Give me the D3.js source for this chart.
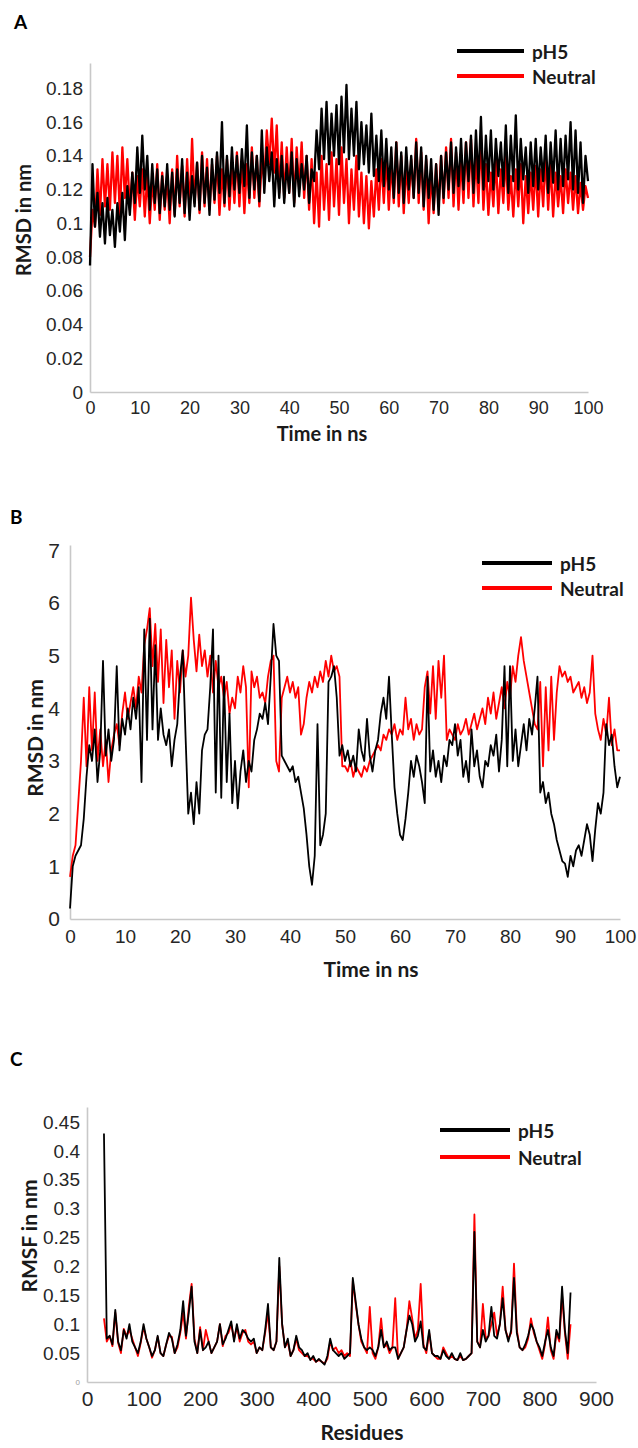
<!DOCTYPE html>
<html>
<head>
<meta charset="utf-8">
<script src="https://cdn.jsdelivr.net/npm/d3@7"></script>
<style>
  body { margin: 0; background: #fff; }
  svg { display: block; font-family: Lato, "Open Sans", sans-serif; }
  .axis path { stroke: #c8c8c8; stroke-width: 1.6; }
  .axis text { fill: #262626; }
  .panel-letter { font-weight: 700; font-size: 19px; fill: #000; }
  .axis-title { font-weight: 700; fill: #1a1a1a; }
  .legend text { font-weight: 700; font-size: 19px; fill: #1a1a1a; }
</style>
</head>
<body>
<script>
const seriesNames = ['pH5', 'Neutral'];
const seriesColors = ['#000000', '#ff0000'];

// A: backbone RMSD (nm), one value every 0.5 ns from 0 to 100
const timeStep = 0.5;
const rmsdA_pH5 = [
    0.075, 0.135, 0.098, 0.118, 0.092, 0.112, 0.088, 0.115, 0.093, 0.108,
    0.086, 0.112, 0.095, 0.118, 0.09, 0.122, 0.105, 0.13, 0.112, 0.145,
    0.118, 0.152, 0.12, 0.14, 0.108, 0.135, 0.112, 0.132, 0.106, 0.128,
    0.11, 0.135, 0.108, 0.13, 0.104, 0.132, 0.112, 0.138, 0.106, 0.13,
    0.102, 0.128, 0.11, 0.136, 0.108, 0.14, 0.112, 0.133, 0.105, 0.138,
    0.114, 0.142, 0.118, 0.16, 0.112, 0.14, 0.116, 0.145, 0.12, 0.14,
    0.118, 0.144, 0.122, 0.158, 0.115, 0.142, 0.12, 0.14, 0.113, 0.155,
    0.118, 0.145, 0.125, 0.142, 0.11, 0.138, 0.115, 0.14, 0.112, 0.135,
    0.118, 0.142, 0.11, 0.138, 0.116, 0.135, 0.12, 0.14, 0.112, 0.132,
    0.125, 0.155, 0.132, 0.168, 0.138, 0.172, 0.135, 0.165, 0.14, 0.17,
    0.135, 0.175, 0.142, 0.182, 0.138, 0.168, 0.14, 0.172, 0.132, 0.16,
    0.135, 0.158, 0.13, 0.165, 0.128, 0.152, 0.125, 0.155, 0.122, 0.15,
    0.12, 0.145, 0.115, 0.148, 0.118, 0.142, 0.112, 0.145, 0.12, 0.14,
    0.115, 0.148, 0.118, 0.145, 0.11, 0.14, 0.115, 0.138, 0.108, 0.135,
    0.105, 0.14, 0.115, 0.142, 0.12, 0.148, 0.118, 0.145, 0.122, 0.15,
    0.12, 0.148, 0.125, 0.152, 0.118, 0.155, 0.124, 0.163, 0.12, 0.152,
    0.125, 0.155, 0.12, 0.15, 0.128, 0.148, 0.122, 0.158, 0.118, 0.152,
    0.125, 0.164, 0.12, 0.15, 0.126, 0.145, 0.118, 0.148, 0.122, 0.15,
    0.12, 0.145, 0.125, 0.152, 0.118, 0.148, 0.124, 0.155, 0.12, 0.15,
    0.122, 0.152, 0.126, 0.16, 0.12, 0.155, 0.118, 0.148, 0.112, 0.14,
    0.125
];
const rmsdA_neutral = [
    0.08, 0.108, 0.098, 0.132, 0.105, 0.138, 0.11, 0.135, 0.108, 0.142,
    0.112, 0.14, 0.105, 0.145, 0.115, 0.138, 0.108, 0.13, 0.102, 0.128,
    0.11, 0.132, 0.104, 0.128, 0.1, 0.126, 0.108, 0.135, 0.102, 0.13,
    0.108, 0.128, 0.1, 0.132, 0.105, 0.14, 0.11, 0.134, 0.104, 0.138,
    0.108, 0.15, 0.112, 0.136, 0.106, 0.142, 0.11, 0.138, 0.108, 0.135,
    0.112, 0.14, 0.105, 0.132, 0.11, 0.138, 0.108, 0.135, 0.112, 0.142,
    0.11, 0.138, 0.106, 0.135, 0.112, 0.145, 0.115, 0.14, 0.11, 0.138,
    0.125, 0.155, 0.135, 0.162, 0.13, 0.158, 0.118, 0.148, 0.115, 0.145,
    0.118, 0.15, 0.112, 0.145, 0.12, 0.148, 0.115, 0.14, 0.108, 0.138,
    0.1, 0.13, 0.098, 0.14, 0.108, 0.135, 0.102, 0.142, 0.11, 0.138,
    0.105, 0.145, 0.112, 0.138, 0.1, 0.132, 0.108, 0.14, 0.104, 0.13,
    0.1, 0.128, 0.097, 0.125, 0.104, 0.132, 0.108, 0.138, 0.112, 0.14,
    0.108, 0.136, 0.112, 0.148, 0.11, 0.14, 0.106, 0.135, 0.112, 0.138,
    0.115, 0.15, 0.112, 0.142, 0.108, 0.138, 0.1, 0.13, 0.106, 0.135,
    0.11, 0.14, 0.112, 0.145, 0.115, 0.15, 0.11, 0.142, 0.108, 0.138,
    0.112, 0.148, 0.115, 0.15, 0.11, 0.14, 0.112, 0.152, 0.108, 0.135,
    0.105, 0.13, 0.11, 0.138, 0.106, 0.132, 0.112, 0.14, 0.108, 0.128,
    0.104, 0.132, 0.11, 0.135, 0.1, 0.128, 0.106, 0.13, 0.108, 0.134,
    0.104, 0.132, 0.11, 0.14, 0.108, 0.135, 0.104, 0.13, 0.11, 0.128,
    0.106, 0.132, 0.112, 0.13, 0.108, 0.128, 0.106, 0.124, 0.108, 0.122,
    0.115
];
const rmsdTicksA = [0, 0.02, 0.04, 0.06, 0.08, 0.1, 0.12, 0.14, 0.16, 0.18];
const timeTicks = [0, 10, 20, 30, 40, 50, 60, 70, 80, 90, 100];

// B: ligand RMSD (nm), one value every 0.5 ns
const rmsdB_pH5 = [
    0.2, 1.0, 1.2, 1.3, 1.4, 1.9, 2.7, 3.3, 3.0, 3.6,
    2.6, 3.2, 4.9, 3.1, 3.6, 3.0, 3.4, 4.8, 3.2, 3.8,
    3.5, 4.0, 3.6, 4.2, 3.8, 4.4, 2.6, 5.5, 3.4, 5.7,
    3.6, 5.2, 3.4, 4.0, 3.5, 3.3, 3.6, 2.9, 3.4, 3.7,
    4.6, 5.1, 3.5, 2.0, 2.4, 1.8, 2.6, 2.0, 3.2, 3.5,
    3.6, 4.4, 5.5, 2.4, 5.0, 2.3, 4.6, 2.6, 3.9, 2.2,
    3.0, 2.1, 2.8, 3.2, 2.6, 3.0, 2.8, 3.4, 3.6, 3.9,
    3.8, 4.1, 3.7, 4.6, 5.6, 5.0, 4.9, 3.1, 3.0, 2.9,
    2.8, 2.9, 2.6, 2.7, 2.4, 2.1, 1.6, 1.0, 0.65, 1.2,
    3.7, 1.4, 1.6, 2.0, 4.5, 4.6, 4.8, 4.2, 3.1, 3.3,
    3.0, 3.2, 2.9, 3.1, 2.8, 3.6, 3.2, 3.0, 3.8, 3.1,
    2.8, 3.2, 3.4, 3.9, 4.2, 3.8, 4.6, 3.5, 2.5, 2.0,
    1.6, 1.5, 1.9, 2.4, 3.0, 2.7, 3.1, 2.9, 2.6, 2.2,
    4.6, 2.8, 3.2, 2.7, 3.0, 2.6, 3.1, 2.9, 3.4, 3.3,
    3.7, 3.1, 3.4, 2.7, 3.0, 2.6, 3.6, 2.9, 3.2, 2.7,
    2.5, 3.0, 2.9, 3.3, 3.1, 3.5, 2.8, 3.4, 4.8, 2.9,
    4.8, 3.0, 3.6, 2.9, 3.3, 3.7, 3.2, 3.8, 3.5, 4.0,
    4.6, 2.4, 2.6, 2.2, 2.4, 2.0, 1.8, 1.5, 1.3, 1.1,
    1.05, 0.8, 1.2, 1.0, 1.3, 1.4, 1.2, 1.5, 1.8, 1.6,
    1.1, 1.7, 2.2, 2.0, 2.4, 3.7, 3.3, 3.5, 2.9, 2.5,
    2.7
];
const rmsdB_neutral = [
    0.8, 1.2, 1.4, 2.2, 3.0, 4.2, 2.9, 4.4, 3.2, 4.3,
    3.0, 3.6, 2.9, 3.4, 2.6, 3.2, 3.5, 3.7, 3.3, 3.9,
    4.3, 3.8, 4.1, 4.4, 4.0, 4.6, 4.3, 5.2, 5.5, 5.9,
    4.8, 5.6, 4.5, 5.5, 4.1, 5.3, 4.4, 5.1, 3.8, 4.9,
    4.3, 5.1, 4.6, 5.0, 6.1, 5.3, 4.7, 5.4, 4.8, 5.1,
    4.6, 5.0, 4.3, 4.9, 4.4, 4.6, 4.2, 4.5, 3.9, 4.2,
    4.0, 4.6, 4.3, 4.8, 4.4, 2.5, 4.7, 4.4, 4.6, 4.2,
    4.3, 4.1, 4.6, 4.9, 5.0, 3.0, 2.8, 4.2, 4.4, 4.6,
    4.3, 4.5, 4.2, 4.4, 3.5, 3.7, 4.2, 4.5, 4.3, 4.6,
    4.4, 4.7, 4.5, 4.9, 4.6, 5.0, 4.7, 4.8, 4.6, 2.9,
    2.9, 2.8, 3.0, 2.7, 2.9, 2.8, 2.7, 2.9, 2.8, 3.0,
    3.1, 3.2, 3.3, 3.2, 3.5, 3.4, 3.6, 3.5, 3.7, 3.4,
    3.6, 3.5, 4.2, 3.6, 3.8, 3.4, 3.7, 3.5, 3.6, 4.4,
    4.7, 3.9, 4.8, 3.8, 4.9, 4.2, 5.0, 3.4, 3.6, 3.5,
    3.4, 3.7, 3.5, 3.6, 3.8, 3.5, 3.7, 3.9, 3.6, 3.8,
    4.0, 3.7, 4.2, 3.9, 4.3, 3.8, 4.1, 4.4, 4.0, 4.5,
    4.2, 4.8, 4.5, 5.0, 5.35, 4.9, 4.6, 4.3, 4.0, 3.7,
    3.6, 4.5, 2.9, 4.4, 3.2, 4.6, 3.4, 4.3, 4.8, 4.6,
    4.7, 4.5, 4.6, 4.3, 4.4, 4.5, 4.2, 4.4, 4.1, 4.3,
    5.0, 3.9, 3.6, 3.4, 3.8, 3.5, 4.2, 3.3, 3.6, 3.2,
    3.2
];
const rmsdTicksB = [0, 1, 2, 3, 4, 5, 6, 7];

// C: RMSF (nm) per residue, every 5 residues from residue 30
const residueStart = 30;
const residueStep = 5;
const rmsfC_pH5 = [
    0.43, 0.075, 0.08, 0.065, 0.125, 0.07, 0.055, 0.09, 0.075, 0.1,
    0.07, 0.06, 0.05, 0.07, 0.1, 0.075, 0.06, 0.045, 0.055, 0.08,
    0.05, 0.045, 0.065, 0.085, 0.075, 0.05, 0.065, 0.09, 0.14, 0.08,
    0.12, 0.165, 0.07, 0.05, 0.09, 0.055, 0.06, 0.07, 0.05, 0.06,
    0.07, 0.1, 0.065, 0.075, 0.09, 0.105, 0.07, 0.1, 0.075, 0.09,
    0.085, 0.075, 0.07, 0.075, 0.05, 0.06, 0.055, 0.09, 0.135, 0.06,
    0.055, 0.07, 0.215, 0.1, 0.06, 0.075, 0.045, 0.055, 0.08, 0.06,
    0.055, 0.045, 0.05, 0.038, 0.045, 0.035, 0.04, 0.035, 0.03, 0.045,
    0.075, 0.055, 0.05, 0.045, 0.05, 0.04, 0.045, 0.05, 0.18, 0.14,
    0.1, 0.075, 0.06, 0.055, 0.06, 0.055, 0.045, 0.06, 0.09, 0.06,
    0.07, 0.055, 0.06, 0.06, 0.04, 0.05, 0.06, 0.09, 0.115, 0.1,
    0.07, 0.08, 0.105, 0.06, 0.055, 0.09, 0.05, 0.045, 0.045, 0.04,
    0.055, 0.045, 0.04, 0.05, 0.04, 0.038, 0.05, 0.038, 0.04, 0.045,
    0.05, 0.26, 0.07, 0.06, 0.09, 0.07, 0.08, 0.13, 0.08, 0.075,
    0.1, 0.145, 0.09, 0.07, 0.09, 0.18, 0.085, 0.06, 0.055, 0.065,
    0.08, 0.1, 0.09, 0.07, 0.06, 0.045, 0.07, 0.09, 0.06, 0.045,
    0.09, 0.075, 0.165, 0.09, 0.05, 0.155
];
const rmsfC_neutral = [
    0.11, 0.07, 0.08, 0.062, 0.12, 0.068, 0.05, 0.092, 0.08, 0.09,
    0.075, 0.06, 0.045, 0.068, 0.095, 0.075, 0.06, 0.042, 0.055, 0.078,
    0.05, 0.045, 0.065, 0.08, 0.078, 0.05, 0.06, 0.085, 0.12, 0.075,
    0.13, 0.17, 0.075, 0.05, 0.095, 0.055, 0.09, 0.07, 0.05, 0.06,
    0.07, 0.1, 0.062, 0.08, 0.085, 0.1, 0.075, 0.095, 0.07, 0.085,
    0.09, 0.07, 0.065, 0.07, 0.05, 0.06, 0.055, 0.085, 0.12, 0.06,
    0.055, 0.07, 0.2, 0.1, 0.06, 0.07, 0.045, 0.055, 0.075, 0.055,
    0.05, 0.045, 0.045, 0.04, 0.04, 0.035, 0.038, 0.035, 0.032, 0.04,
    0.07, 0.055, 0.06, 0.05, 0.055, 0.045, 0.05, 0.045, 0.175, 0.135,
    0.1, 0.07, 0.06, 0.05, 0.13, 0.05, 0.04, 0.06, 0.11, 0.06,
    0.065, 0.05, 0.06, 0.145, 0.04, 0.05, 0.06, 0.09, 0.14, 0.11,
    0.075, 0.09, 0.17, 0.065, 0.05, 0.085, 0.05, 0.045, 0.04, 0.04,
    0.06, 0.05, 0.04, 0.045, 0.04, 0.038, 0.045, 0.038, 0.04, 0.045,
    0.05, 0.29, 0.07, 0.06, 0.135, 0.075, 0.08, 0.1, 0.12, 0.08,
    0.1, 0.165, 0.09, 0.075, 0.085, 0.205, 0.09, 0.06, 0.055, 0.06,
    0.075, 0.11, 0.085, 0.07, 0.055, 0.04, 0.065, 0.112, 0.055, 0.04,
    0.085, 0.07, 0.15, 0.085, 0.04, 0.1
];
const rmsfTicksC = [0, 0.05, 0.1, 0.15, 0.2, 0.25, 0.3, 0.35, 0.4, 0.45];
const residueTicks = [0, 100, 200, 300, 400, 500, 600, 700, 800, 900];

const width = 638;
const height = 1448;

const svg = d3.select('body')
    .append('svg')
    .attr('width', width)
    .attr('height', height);

const tickText = d => String(+d.toFixed(2));

const panels = [
    {
        letter: 'A', letterPos: [14, 29],
        series: [rmsdA_pH5, rmsdA_neutral], x0: 0, step: timeStep,
        xDomain: [0, 100], xRange: [90, 588], xTicks: timeTicks, xPad: 9, xFont: 18,
        yDomain: [0, 0.195], yRange: [392, 63], yTicks: rmsdTicksA, yPad: 7, yFont: 19,
        yTitle: 'RMSD in nm', yTitlePos: [23, 220], xTitle: 'Time in ns', xTitlePos: [322, 441],
        titleFont: 20, lineWidth: 2.3,
        legend: { x1: 457, x2: 524, y: 51, gap: 25 }
    },
    {
        letter: 'B', letterPos: [10, 524],
        series: [rmsdB_pH5, rmsdB_neutral], x0: 0, step: timeStep,
        xDomain: [0, 100], xRange: [70, 620], xTicks: timeTicks, xPad: 11, xFont: 19,
        yDomain: [0, 7.1], yRange: [919, 545], yTicks: rmsdTicksB, yPad: 10, yFont: 21,
        yTitle: 'RMSD in nm', yTitlePos: [34, 738], xTitle: 'Time in ns', xTitlePos: [371, 977],
        titleFont: 21, lineWidth: 1.8,
        legend: { x1: 482, x2: 552, y: 563, gap: 25 }
    },
    {
        letter: 'C', letterPos: [10, 1066],
        series: [rmsfC_pH5, rmsfC_neutral], x0: residueStart, step: residueStep,
        xDomain: [0, 900], xRange: [87, 596], xTicks: residueTicks, xPad: 9, xFont: 21,
        yDomain: [0, 0.476], yRange: [1382, 1107], yTicks: rmsfTicksC, yPad: 7, yFont: 19,
        yTitle: 'RMSF in nm', yTitlePos: [28, 1236], xTitle: 'Residues', xTitlePos: [362, 1440],
        titleFont: 21, lineWidth: 1.8,
        legend: { x1: 440, x2: 510, y: 1130, gap: 27 }
    }
];

panels.forEach(drawPanel);

function drawPanel(p) {
    const x = d3.scaleLinear().domain(p.xDomain).range(p.xRange);
    const y = d3.scaleLinear().domain(p.yDomain).range(p.yRange);
    const g = svg.append('g');

    g.append('text')
        .attr('class', 'panel-letter')
        .attr('x', p.letterPos[0])
        .attr('y', p.letterPos[1])
        .text(p.letter);

    const yAxis = g.append('g')
        .attr('class', 'axis')
        .attr('transform', `translate(${p.xRange[0]}, 0)`)
        .call(d3.axisLeft(y).tickValues(p.yTicks).tickSize(0)
            .tickPadding(p.yPad).tickFormat(tickText));
    yAxis.selectAll('text').style('font-size', p.yFont + 'px');
    if (p.letter === 'C') {
        // the zero label is printed very small and grey in the figure
        yAxis.selectAll('.tick').filter(d => d === 0).select('text')
            .style('font-size', '8px').style('fill', '#a0a0a0');
    }

    const xAxis = g.append('g')
        .attr('class', 'axis')
        .attr('transform', `translate(0, ${p.yRange[0]})`)
        .call(d3.axisBottom(x).tickValues(p.xTicks).tickSize(0)
            .tickPadding(p.xPad).tickFormat(tickText));
    xAxis.selectAll('text').style('font-size', p.xFont + 'px');
    g.selectAll('.axis .domain').attr('fill', 'none');

    const line = d3.line()
        .x(d => x(d[0]))
        .y(d => y(d[1]));

    // Neutral underneath, pH5 on top
    [1, 0].forEach(k => {
        const pts = p.series[k].map((v, i) => [p.x0 + i * p.step, v]);
        g.append('path')
            .datum(pts)
            .attr('fill', 'none')
            .attr('stroke', seriesColors[k])
            .attr('stroke-width', p.lineWidth)
            .attr('stroke-linejoin', 'round')
            .attr('d', line);
    });

    g.append('text')
        .attr('class', 'axis-title')
        .attr('text-anchor', 'middle')
        .attr('dominant-baseline', 'central')
        .attr('transform', `translate(${p.yTitlePos[0]}, ${p.yTitlePos[1]}) rotate(-90)`)
        .style('font-size', p.titleFont + 'px')
        .text(p.yTitle);

    g.append('text')
        .attr('class', 'axis-title')
        .attr('text-anchor', 'middle')
        .attr('x', p.xTitlePos[0])
        .attr('y', p.xTitlePos[1])
        .style('font-size', p.titleFont + 'px')
        .text(p.xTitle);

    const legend = g.append('g').attr('class', 'legend');
    seriesNames.forEach((name, k) => {
        const ly = p.legend.y + k * p.legend.gap;
        legend.append('line')
            .attr('x1', p.legend.x1).attr('x2', p.legend.x2)
            .attr('y1', ly).attr('y2', ly)
            .attr('stroke', seriesColors[k])
            .attr('stroke-width', 4);
        legend.append('text')
            .attr('x', p.legend.x2 + 8)
            .attr('y', ly)
            .attr('dominant-baseline', 'central')
            .text(name);
    });
}
</script>
</body>
</html>
